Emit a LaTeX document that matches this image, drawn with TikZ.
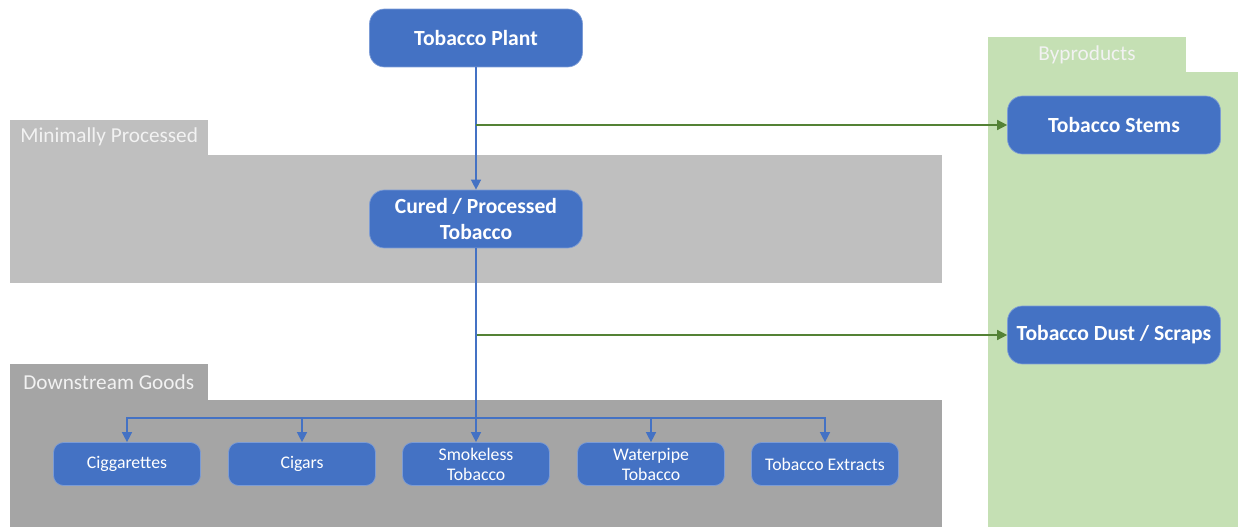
\documentclass[tikz,border=0pt]{standalone}
\usepackage{fontspec}
\setmainfont{Carlito}
\usetikzlibrary{arrows.meta}
\definecolor{nodeblue}{HTML}{4472C4}
\definecolor{leafgreen}{HTML}{548235}
\definecolor{bandlight}{HTML}{BFBFBF}
\definecolor{banddark}{HTML}{A5A5A5}
\definecolor{bandgreen}{HTML}{C5E0B4}

\begin{document}
\begin{tikzpicture}[x=0.02cm, y=-0.02cm,
    stage/.style={rectangle, rounded corners=0.3cm, fill=nodeblue, draw=nodeblue!70!white,
      text=white, font=\fontsize{12.3}{14.3}\selectfont\bfseries, align=center,
      minimum width=4.26cm, minimum height=1.16cm, inner sep=1pt},
    good/.style={rectangle, rounded corners=0.2cm, fill=nodeblue, draw=nodeblue!70!white,
      text=white, font=\fontsize{10.1}{11.4}\selectfont, align=center,
      minimum width=2.94cm, minimum height=0.86cm, inner sep=1pt},
    tab/.style={text=white!95!black, font=\fontsize{12.1}{14}\selectfont, inner sep=0pt},
    flow/.style={nodeblue, line width=0.8pt, -{Triangle[length=2mm,width=2mm]}},
    side/.style={leafgreen, line width=0.8pt, -{Triangle[length=2mm,width=2mm]}}]
  \useasboundingbox (0,0) rectangle (1238,527);
  % bands
  \fill[bandlight] (10,120) rectangle (208,156);
  \fill[bandlight] (10,155) rectangle (942,283);
  \fill[banddark] (10,364) rectangle (208,401);
  \fill[banddark] (10,400) rectangle (942,527);
  \fill[bandgreen] (988,37) rectangle (1186,73);
  \fill[bandgreen] (988,72) rectangle (1238,527);
  \node[tab, anchor=west] (mintab) at (20,137) {Minimally Processed};
  \node[tab, anchor=west] (downtab) at (23,382) {Downstream Goods};
  \node[tab] (bytab) at (1087,55) {Byproducts};

  % main stages
  \node[stage] (plant) at (476,38) {Tobacco Plant};
  \node[stage] (cured) at (476,219) {Cured / Processed\\Tobacco};
  \node[stage] (stems) at (1114,125) {Tobacco Stems};
  \node[stage] (dust) at (1114,335) {Tobacco Dust / Scraps};

  % downstream goods
  \node[good] (cigt) at (127,464) {Ciggarettes};
  \node[good] (cigar) at (302,464) {Cigars};
  \node[good] (smokeless) at (476,464) {Smokeless\\Tobacco};
  \node[good] (waterpipe) at (651,464) {Waterpipe\\Tobacco};
  \node[good] (extract) at (825,464) {Tobacco Extracts};

  \coordinate (stemfork) at (476,125);
  \coordinate (dustfork) at (476,335);
  \coordinate (split) at (476,418);

  \draw[flow] (plant) -- (cured);
  \draw[side] (stemfork) -- (stems);
  \draw[side] (dustfork) -- (dust);
  \draw[flow] (cured) -- (smokeless);
  \draw[flow] (split) -| (cigt);
  \draw[flow] (split) -| (cigar);
  \draw[flow] (split) -| (waterpipe);
  \draw[flow] (split) -| (extract);
\end{tikzpicture}
\end{document}
